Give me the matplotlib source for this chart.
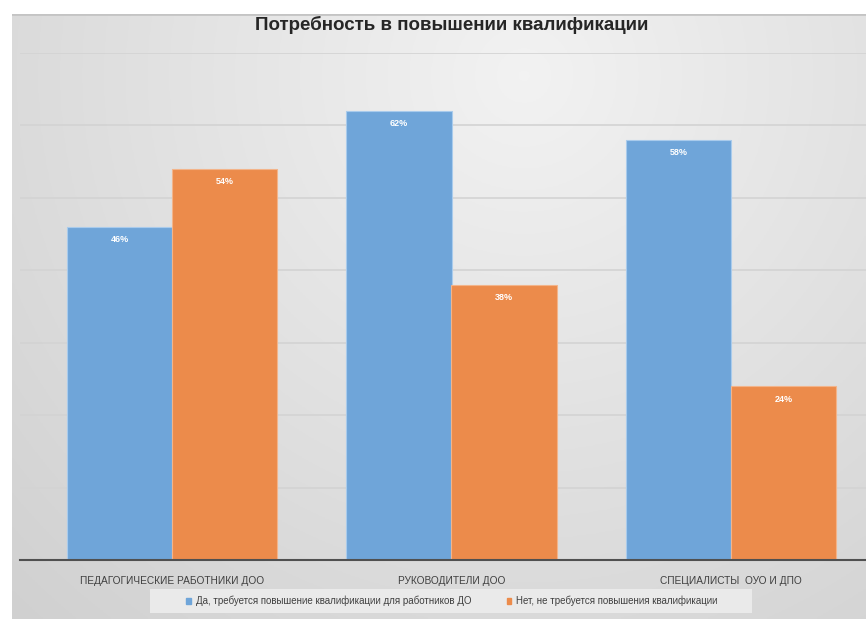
import numpy as np
import matplotlib
matplotlib.use("Agg")
import matplotlib.pyplot as plt
from matplotlib.patches import Patch, Rectangle

categories = ["ПЕДАГОГИЧЕСКИЕ РАБОТНИКИ ДОО", "РУКОВОДИТЕЛИ ДОО", "СПЕЦИАЛИСТЫ  ОУО И ДПО"]
yes_vals = [46, 62, 58]
no_vals = [54, 38, 24]
series_names = ["Да, требуется повышение квалификации для работников ДО",
                "Нет, не требуется повышения квалификации"]
title = "Потребность в повышении квалификации"

plt.rcParams['font.family'] = ['Liberation Sans', 'DejaVu Sans']

W, H = 866, 622
fig = plt.figure(figsize=(W / 100, H / 100), dpi=100)
fig.patch.set_facecolor("white")

# background panel with gradient
bg = fig.add_axes([12 / W, 1 - 619 / H, (W - 12) / W, (619 - 14) / H])
yy, xx = np.mgrid[0:1:200j, 0:1:300j]
d = np.sqrt(((xx - 0.6) / 0.85) ** 2 + ((yy - 0.1) / 1.2) ** 2)
val = 0.95 - 0.13 * d
img = np.dstack([val, val, val])
bg.imshow(img, aspect="auto", extent=[0, 1, 0, 1], origin="upper")
bg.axhline(1, color="#c4c4c4", lw=2)
bg.set_axis_off()

ax = fig.add_axes([20 / W, 1 - 560 / H, (W - 20) / W, (560 - 52.5) / H])
ax.set_facecolor("none")
x = np.arange(len(categories))
w = 0.376
blue = "#6fa5d9"
orange = "#ec8b4b"
b1 = ax.bar(x - w / 2, yes_vals, w, color=blue, edgecolor="#a9cbec", linewidth=0.8, zorder=3)
b2 = ax.bar(x + w / 2, no_vals, w, color=orange, edgecolor="#f3b48a", linewidth=0.8, zorder=3)
for bars, vals in ((b1, yes_vals), (b2, no_vals)):
    for r, v in zip(bars, vals):
        ax.text(r.get_x() + r.get_width() / 2, v - 1.8, f"{v}%", ha="center", va="center",
                color="white", fontsize=6.5, fontweight="bold", zorder=4)

ax.set_xlim((20 - 172) / 279.5, (866 - 172) / 279.5)
ax.set_ylim(0, 70)
ax.set_yticks(np.arange(10, 71, 10))
ax.yaxis.grid(True, color="#d3d3d3", lw=1.2, zorder=0)
ax.tick_params(axis="y", left=False, labelleft=False)
ax.tick_params(axis="x", bottom=False, pad=8)
ax.set_xticks(x)
ax.set_xticklabels(categories, fontsize=7.3, color="#404040")
for s in ["top", "right", "left"]:
    ax.spines[s].set_visible(False)
ax.spines["bottom"].set_color("#505050")
ax.spines["bottom"].set_linewidth(1.5)
ax.spines["bottom"].set_zorder(5)

fig.text(452 / W, 1 - 25 / H, title, ha="center", va="center", fontsize=13.5,
         fontweight="bold", color="#262626")

# legend box
fig.patches.append(Rectangle((150 / W, 1 - 613 / H), (752 - 150) / W, (613 - 589) / H,
                             transform=fig.transFigure, facecolor="#eaeaea",
                             edgecolor="none", zorder=1))
handles = [Patch(color=blue), Patch(color=orange)]
leg = fig.legend(handles, series_names, loc="center", bbox_to_anchor=(452 / W, 1 - 601 / H),
                 ncol=2, fontsize=7, frameon=False, handlelength=0.5, handleheight=0.5,
                 handletextpad=0.5, columnspacing=3.6, borderpad=0.3)
for t in leg.get_texts():
    t.set_color("#404040")

fig.savefig("out.png", dpi=100)
